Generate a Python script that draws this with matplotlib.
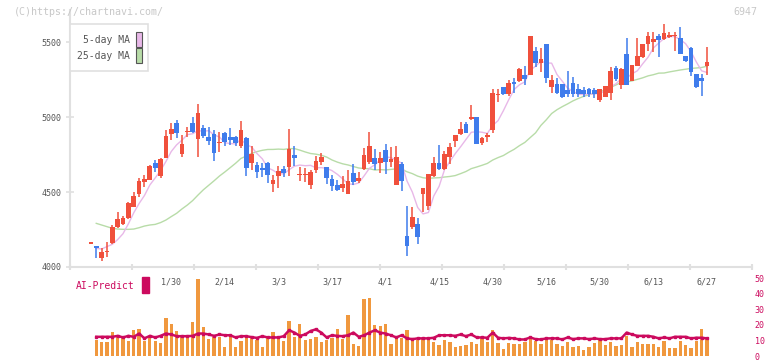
import numpy as np
import pandas as pd
import matplotlib
matplotlib.use('Agg')
import matplotlib.pyplot as plt
from matplotlib.patches import Rectangle

nan = np.nan

# daily candles (oldest -> newest)
opens = [4155, 4138, 4062, 4098, 4162, 4269, 4287, 4324, 4402, 4487,
         4569, 4580, 4693, 4607, 4729, 4889, 4960, 4756, 4898, 4960,
         4856, 4927, 4864, 4887, 4825, 4895, 4867, 4869, 4809, 4862,
         4691, 4680, 4658, 4691, 4553, 4609, 4653, 4669, 4749, 4613,
         4613, 4547, 4647, 4702, 4667, 4587, 4547, 4524, 4487, 4629,
         4573, 4653, 4698, 4729, 4691, 4780, 4702, 4547, 4687, 4207,
         4264, 4287, 4487, 4409, 4607, 4691, 4653, 4736, 4842, 4887,
         4951, 4989, 4998, 4829, 4869, 4913, 5145, 5200, 5153, 5231,
         5240, 5280, 5280, 5440, 5358, 5487, 5202, 5220, 5220, 5180,
         5224, 5187, 5180, 5187, 5180, 5113, 5136, 5162, 5329, 5213,
         5420, 5242, 5340, 5398, 5484, 5502, 5540, 5518, 5536, 5538,
         5524, 5407, 5462, 5287, 5262, 5340]
highs = [4161, 4142, 4124, 4169, 4280, 4369, 4340, 4435, 4502, 4591,
         4613, 4680, 4713, 4727, 4913, 4958, 4980, 4880, 4935, 4998,
         5087, 4947, 4931, 4913, 4902, 4897, 4924, 4871, 4973, 4870,
         4807, 4698, 4695, 4697, 4613, 4673, 4673, 4920, 4807, 4664,
         4660, 4650, 4740, 4758, 4670, 4613, 4580, 4607, 4647, 4687,
         4636, 4791, 4898, 4787, 4769, 4820, 4802, 4807, 4702, 4407,
         4398, 4324, 4529, 4622, 4736, 4813, 4773, 4829, 4882, 4969,
         4969, 5080, 5000, 4865, 4895, 5184, 5184, 5202, 5247, 5262,
         5329, 5342, 5542, 5469, 5458, 5490, 5280, 5258, 5222, 5307,
         5269, 5218, 5202, 5196, 5196, 5189, 5209, 5336, 5340, 5324,
         5527, 5349, 5524, 5489, 5569, 5569, 5553, 5618, 5569, 5569,
         5598, 5409, 5464, 5289, 5284, 5467]
lows = [4155, 4058, 4042, 4069, 4155, 4260, 4280, 4318, 4400, 4469,
        4535, 4578, 4631, 4591, 4727, 4847, 4862, 4733, 4869, 4891,
        4733, 4860, 4813, 4709, 4764, 4809, 4813, 4805, 4795, 4609,
        4647, 4595, 4598, 4558, 4502, 4524, 4602, 4607, 4673, 4573,
        4567, 4520, 4624, 4680, 4553, 4507, 4507, 4502, 4487, 4547,
        4558, 4650, 4687, 4647, 4629, 4618, 4669, 4547, 4507, 4073,
        4251, 4153, 4369, 4380, 4602, 4647, 4650, 4687, 4798, 4880,
        4891, 4980, 4818, 4813, 4836, 4895, 5102, 5150, 5142, 5158,
        5236, 5213, 5278, 5336, 5298, 5224, 5162, 5153, 5129, 5136,
        5136, 5136, 5136, 5136, 5124, 5098, 5134, 5113, 5242, 5187,
        5211, 5240, 5338, 5396, 5440, 5436, 5402, 5513, 5529, 5440,
        5418, 5369, 5276, 5196, 5140, 5280]
closes = [4161, 4128, 4098, 4105, 4264, 4320, 4324, 4427, 4473, 4573,
          4587, 4673, 4662, 4720, 4873, 4922, 4895, 4818, 4905, 4902,
          5027, 4873, 4838, 4762, 4833, 4836, 4847, 4824, 4913, 4662,
          4753, 4631, 4647, 4613, 4580, 4640, 4624, 4787, 4729, 4618,
          4618, 4636, 4707, 4733, 4595, 4542, 4513, 4553, 4573, 4569,
          4595, 4749, 4807, 4687, 4729, 4702, 4718, 4736, 4573, 4140,
          4331, 4202, 4524, 4620, 4691, 4653, 4753, 4800, 4880, 4920,
          4895, 4995, 4820, 4862, 4880, 5162, 5155, 5153, 5229, 5218,
          5320, 5253, 5540, 5362, 5384, 5262, 5247, 5162, 5136, 5153,
          5153, 5153, 5153, 5153, 5153, 5187, 5207, 5307, 5253, 5320,
          5213, 5347, 5407, 5487, 5540, 5520, 5513, 5560, 5547, 5542,
          5420, 5376, 5298, 5202, 5242, 5367]

# moving averages: values before a full window
ma5_head = [nan, 4124, 4120, 4136]
ma25_head = [nan, 4291, 4280, 4269, 4258, 4253, 4251, 4251, 4253, 4262,
             4273, 4280, 4284, 4296, 4313, 4336, 4358, 4387, 4413, 4443,
             4480, 4515, 4545, 4575]

# lower panel
volume = [nan, 10.2, 8.8, 8.8, 15.6, 12.3, 11.3, 9.6, 16.5, 17.5,
          9.6, 11.9, 9.6, 8.1, 24.6, 20.6, 15.8, 12.3, 12.3, 21.5,
          49.4, 18.8, 10.8, 12.3, 11.9, 5.6, 12.9, 5.6, 9.4, 12.3,
          12.0, 10.2, 6.0, 11.9, 15.6, 11.9, 9.4, 22.5, 12.5, 20.6,
          10.2, 10.6, 11.9, 8.8, 10.2, 11.3, 17.5, 10.8, 26.3, 7.5,
          6.3, 36.3, 36.9, 20.0, 19.4, 20.6, 7.5, 12.3, 11.3, 16.5,
          9.4, 10.2, 11.3, 11.3, 8.8, 6.9, 10.2, 8.8, 5.8, 6.3,
          6.9, 8.8, 7.5, 11.3, 8.8, 16.9, 8.1, 4.6, 8.1, 7.5,
          7.5, 8.8, 10.8, 9.6, 7.5, 10.2, 10.2, 7.5, 6.3, 8.8,
          5.8, 6.3, 4.0, 5.6, 8.1, 11.7, 7.3, 9.2, 6.3, 7.3,
          12.7, 5.6, 8.8, 7.5, 7.5, 7.5, 5.6, 9.6, 5.2, 5.2,
          9.4, 7.3, 5.2, 9.6, 17.1, 12.2]
ai_predict = [nan, 12.3, 12.3, 12.3, 12.3, 12.9, 11.9, 12.9, 12.3, 14.4,
              11.3, 12.9, 11.9, 12.9, 14.4, 13.8, 12.7, 12.7, 12.7, 12.9,
              14.4, 14.4, 13.8, 12.9, 13.8, 13.3, 13.3, 11.9, 12.7, 12.7,
              12.1, 11.6, 12.7, 11.9, 11.9, 11.9, 12.7, 16.5, 15.0, 12.9,
              13.8, 16.0, 17.1, 15.0, 11.9, 13.3, 12.9, 12.7, 13.3, 15.0,
              12.3, 13.3, 15.0, 16.5, 15.0, 14.4, 13.3, 11.9, 13.3, 11.3,
              10.8, 11.3, 11.3, 11.3, 11.7, 13.3, 13.3, 13.3, 12.9, 13.8,
              12.7, 13.8, 11.9, 11.9, 11.7, 15.0, 11.7, 11.3, 11.6, 11.3,
              10.6, 10.6, 11.9, 10.8, 10.6, 11.3, 11.3, 11.3, 10.6, 11.9,
              10.8, 11.3, 11.3, 10.8, 11.3, 10.8, 10.8, 11.3, 11.3, 11.3,
              15.0, 13.8, 12.9, 12.9, 12.9, 12.3, 11.3, 11.9, 11.3, 12.3,
              12.3, 12.3, 11.3, 11.7, 11.7, 11.3]

date_labels = ['1/30', '2/14', '3/3', '3/17', '4/1', '4/15',
               '4/30', '5/16', '5/30', '6/13', '6/27']
date_idx = [15, 25, 35, 45, 55, 65, 75, 85, 95, 105, 115]
price_ticks = [4000, 4500, 5000, 5500]
sub_ticks = [0, 10, 20, 30, 40, 50]

RED = '#f0503c'
BLUE = '#3f7cec'
PINK = '#e8b8e8'
GREEN = '#b8dca8'
ORANGE = '#f0983e'
CRIMSON = '#cc0a5e'
GRID = '#e0e0e0'
TXT = '#555555'
MONO = 'DejaVu Sans Mono'

W, H = 772, 361
fig = plt.figure(figsize=(W / 100, H / 100), dpi=100)


def px_axes(l, t, r, b):
    return fig.add_axes([l / W, 1 - b / H, (r - l) / W, (b - t) / H])


o = np.array(opens, float)
h = np.array(highs, float)
l = np.array(lows, float)
c = np.array(closes, float)
n = len(c)
x = np.arange(n)
xlim = (-3.9, 123.4)

s = pd.Series(c)
ma5 = s.rolling(5).mean().values
ma5[:len(ma5_head)] = ma5_head
ma25 = s.rolling(25).mean().values
ma25[:len(ma25_head)] = ma25_head

# --- price panel
ax = px_axes(70, 10, 752, 267)
ax.plot(x, ma25, color=GREEN, lw=1.0, zorder=1)
ax.plot(x, ma5, color=PINK, lw=1.0, zorder=1)
col = np.where(c >= o, RED, BLUE)
ax.vlines(x, l, h, color=col, lw=1.1, zorder=2)
ax.bar(x, np.maximum(np.abs(c - o), 9), bottom=np.minimum(o, c),
       width=0.88, color=col, linewidth=0, zorder=3)
ax.set_xlim(*xlim)
ax.set_ylim(4000, 4000 + 257 / 0.15)
for side in ('top', 'right'):
    ax.spines[side].set_visible(False)
for side in ('left', 'bottom'):
    ax.spines[side].set_color(GRID)
    ax.spines[side].set_linewidth(1.5)
ax.set_xticks(np.linspace(xlim[0], xlim[1], 12))
ax.tick_params(axis='x', direction='inout', length=5, width=1.5,
               color=GRID, labelbottom=False)
ax.set_yticks(price_ticks)
ax.set_yticklabels([str(t) for t in price_ticks], family=MONO,
                   fontsize=6, color=TXT)
ax.tick_params(axis='y', direction='inout', length=6, width=1.2,
               color=GRID, pad=3)
ax.set_facecolor('none')

for lab, i in zip(date_labels, date_idx):
    ax.text(i, -15 / 257, lab, transform=ax.get_xaxis_transform(),
            ha='center', va='center', fontsize=6, color=TXT, family=MONO)

# --- volume / AI-Predict panel
axv = px_axes(70, 270, 752, 356)
axv.bar(x, volume, width=0.62, color=ORANGE, linewidth=0)
axv.plot(x, ai_predict, color=CRIMSON, lw=1.8, marker='s', ms=2.0)
axv.set_xlim(*xlim)
axv.set_ylim(0, 86 / 1.56)
for sp in axv.spines.values():
    sp.set_visible(False)
axv.set_xticks([])
axv.yaxis.tick_right()
axv.set_yticks(sub_ticks)
axv.set_yticklabels([str(t) for t in sub_ticks], family=MONO,
                    fontsize=6, color=CRIMSON)
axv.tick_params(axis='y', length=0, pad=2)
axv.set_facecolor('none')

fig.text(76 / W, 1 - 286 / H, 'AI-Predict', color=CRIMSON, fontsize=7,
         family=MONO, va='center', ha='left')
fig.patches.append(Rectangle((142 / W, 1 - 293 / H), 7 / W, 16 / H,
                             transform=fig.transFigure, color=CRIMSON))

# --- legend box
fig.patches.append(Rectangle((70 / W, 1 - 71 / H), 78 / W, 47 / H,
                             transform=fig.transFigure, facecolor='white',
                             edgecolor=GRID, lw=1.2, zorder=5))
for txt, yc, fc in [('5-day MA', 40, PINK), ('25-day MA', 56, GREEN)]:
    fig.text(130 / W, 1 - yc / H, txt, color=TXT, fontsize=7, family=MONO,
             ha='right', va='center', zorder=6)
    fig.patches.append(Rectangle((136 / W, 1 - (yc + 7) / H), 6 / W, 15 / H,
                                 transform=fig.transFigure, facecolor=fc,
                                 edgecolor=TXT, lw=0.8, zorder=6))

fig.text(14 / W, 1 - 12 / H, '(C)https://chartnavi.com/', color='#c8c8c8',
         fontsize=7.2, family=MONO, va='center', ha='left')
fig.text(757 / W, 1 - 12 / H, '6947', color='#c8c8c8', fontsize=7.2,
         family=MONO, va='center', ha='right')

fig.savefig('out.png', dpi=100)
